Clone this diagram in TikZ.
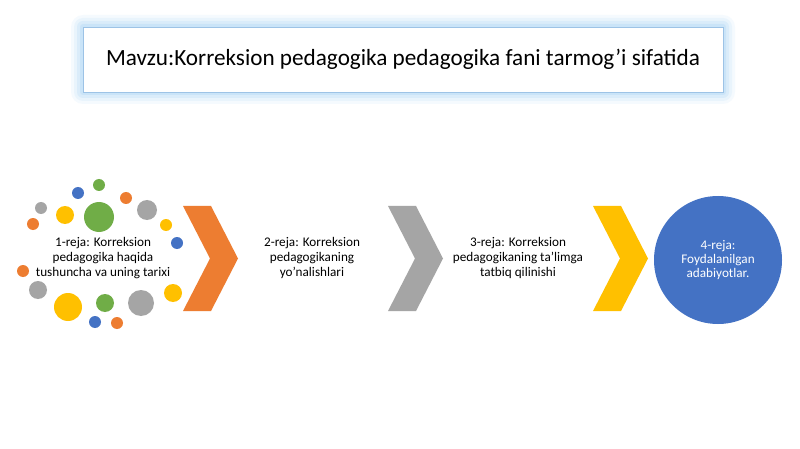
\documentclass[tikz,border=0pt]{standalone}
\usepackage{fontspec}
\setmainfont{Carlito}
\definecolor{offorange}{HTML}{ED7D31}
\definecolor{offgray}{HTML}{A5A5A5}
\definecolor{offyellow}{HTML}{FFC000}
\definecolor{offblue}{HTML}{4472C4}
\definecolor{offgreen}{HTML}{70AD47}
\definecolor{titleline}{HTML}{9DC3E6}
\definecolor{titleglow}{HTML}{B4DAF7}
\begin{document}
\begin{tikzpicture}
[x=1pt,y=-1pt,
  titledecorate/.style={shape=rectangle,draw=titleline,fill=white,line width=0.8pt,
    minimum width=640pt,minimum height=65pt,font=\fontsize{23.2}{27}\selectfont},%
  rejadecorate/.style={align=center,font=\fontsize{13.2}{15}\selectfont},%
  dotdecorate/.style={shape=circle,inner sep=0pt}]
\useasboundingbox (0,0) rectangle (800,449);
\fill[white] (0,0) rectangle (800,449);
%% glow round the title
\foreach \w/\o in {12/0.12, 9/0.18, 6/0.28, 3/0.40} {
  \fill[titleglow,opacity=\o,rounded corners=\w pt]
    (83-\w,27-\w) rectangle (723+\w,92+\w);
}
\node (title) at (403,59.5) [titledecorate] {Mavzu:Korreksion pedagogika pedagogika fani tarmog’i sifatida};
%% dots round the first step
\foreach \dotname/\x/\y/\r/\colour in {g1/99/185/6/offgreen, b1/78/193/6/offblue,
  o1/126/198/6/offorange, a1/41/208/6/offgray, y1/65/215/9/offyellow,
  g2/99/217/15/offgreen, a2/147/210/10/offgray, o2/33/224/6/offorange,
  y2/166/225/6/offyellow, b2/177/243/6/offblue, o3/23/271/6/offorange,
  a3/38/290/9/offgray, y3/173/293/9/offyellow, y4/68/307/14/offyellow,
  g3/105/303/9/offgreen, a4/141/303/13/offgray, b3/95/322/6/offblue,
  o4/117/323/6/offorange} {
  \node (\dotname) at (\x,\y) [dotdecorate,fill=\colour,minimum size=2*\r pt] {};
}
%% chevrons
\foreach \chevname/\x/\colour in {c1/183/offorange, c2/388/offgray, c3/593/offyellow} {
  \fill[\colour] (\x,206) -- (\x+28,206) -- (\x+55,258.5) -- (\x+28,311)
    -- (\x,311) -- (\x+27,258.5) -- cycle;
}
%% steps
\node (reja1) at (103,258) [rejadecorate] {1-reja: Korreksion\\pedagogika haqida\\tushuncha va uning tarixi};
\node (reja2) at (312,258) [rejadecorate] {2-reja: Korreksion\\pedagogikaning\\yo’nalishlari};
\node (reja3) at (518,258) [rejadecorate] {3-reja: Korreksion\\pedagogikaning ta’limga\\tatbiq qilinishi};
\node (reja4) at (718,260) [shape=circle,fill=offblue,minimum size=128pt,text=white,
  align=center,font=\fontsize{13.2}{14}\selectfont] {4-reja:\\Foydalanilgan\\adabiyotlar.};
\end{tikzpicture}
\end{document}
